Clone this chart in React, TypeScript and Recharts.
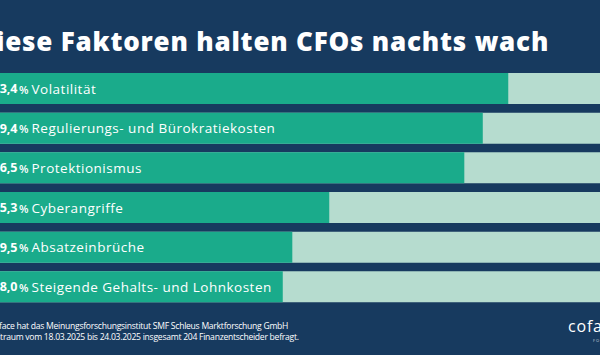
import { BarChart, Bar, XAxis, YAxis, LabelList } from "recharts";

const factors = [
  "Volatilität",
  "Regulierungs- und Bürokratiekosten",
  "Protektionismus",
  "Cyberangriffe",
  "Absatzeinbrüche",
  "Steigende Gehalts- und Lohnkosten",
];
const shares = [83.4, 79.4, 76.5, 55.3, 49.5, 48.0];

const data = factors.map((name, i) => ({ name, share: shares[i] }));

const NAVY = "#173a5f";
const GREEN = "#1aab8b";
const LIGHT = "#b6dccf";
const FONT = "'Open Sans', sans-serif";

const fmt = (v: number) => v.toFixed(1).replace(".", ",");

const BarText = (props: any) => {
  const { x, y, height, index } = props;
  const row = data[index];
  if (!row) return null;
  const cy = y + height / 2;
  return (
    <g>
      <text
        x={x + 15.5}
        y={cy}
        dominantBaseline="central"
        fill="#ffffff"
        fontSize={12.5}
        fontWeight={700}
        fontFamily={FONT}
      >
        {fmt(row.share)}
        <tspan dx={1.5} fontSize={11} fontWeight={600}>%</tspan>
      </text>
      <text
        x={x + 54.5}
        y={cy}
        dominantBaseline="central"
        fill="#ffffff"
        fontSize={13.5}
        letterSpacing={0.5}
        fontFamily={FONT}
      >
        {row.name}
      </text>
    </g>
  );
};

export default function App() {
  return (
    <div
      style={{
        position: "absolute",
        left: 0,
        top: 0,
        width: 600,
        height: 355,
        overflow: "hidden",
        background: NAVY,
        fontFamily: FONT,
      }}
    >
      <div
        style={{
          position: "absolute",
          left: -24,
          top: 24,
          color: "#fff",
          fontWeight: 800,
          fontSize: 26,
          letterSpacing: 0.8,
          whiteSpace: "nowrap",
          lineHeight: "34px",
        }}
      >
        Diese Faktoren halten CFOs nachts wach
      </div>
      <div style={{ position: "absolute", left: -23, top: 0 }}>
        <BarChart
          width={637}
          height={355}
          data={data}
          layout="vertical"
          margin={{ top: 69, right: 0, bottom: 48, left: 0 }}
        >
          <XAxis type="number" domain={[0, 100]} hide />
          <YAxis type="category" dataKey="name" hide />
          <Bar
            dataKey="share"
            fill={GREEN}
            barSize={31}
            background={{ fill: LIGHT }}
            isAnimationActive={false}
          >
            <LabelList dataKey="name" content={<BarText />} />
          </Bar>
        </BarChart>
      </div>
      <div
        style={{
          position: "absolute",
          left: -11,
          top: 321,
          color: "#fff",
          fontSize: 8.6,
          lineHeight: "10.5px",
          letterSpacing: -0.27,
          whiteSpace: "nowrap",
        }}
      >
        <div>Coface hat das Meinungsforschungsinstitut SMF Schleus Marktforschung GmbH</div>
        <div>Zeitraum vom 18.03.2025 bis 24.03.2025 insgesamt 204 Finanzentscheider befragt.</div>
      </div>
      <div
        style={{
          position: "absolute",
          left: 568,
          top: 315,
          color: "#fff",
          fontSize: 16,
          lineHeight: "22px",
          letterSpacing: 0.8,
          whiteSpace: "nowrap",
        }}
      >
        coface
      </div>
      <div
        style={{
          position: "absolute",
          left: 593,
          top: 338,
          color: "#c9d3de",
          fontSize: 4,
          lineHeight: "5px",
          letterSpacing: 1,
          whiteSpace: "nowrap",
        }}
      >
        FOR TRADE
      </div>
    </div>
  );
}
